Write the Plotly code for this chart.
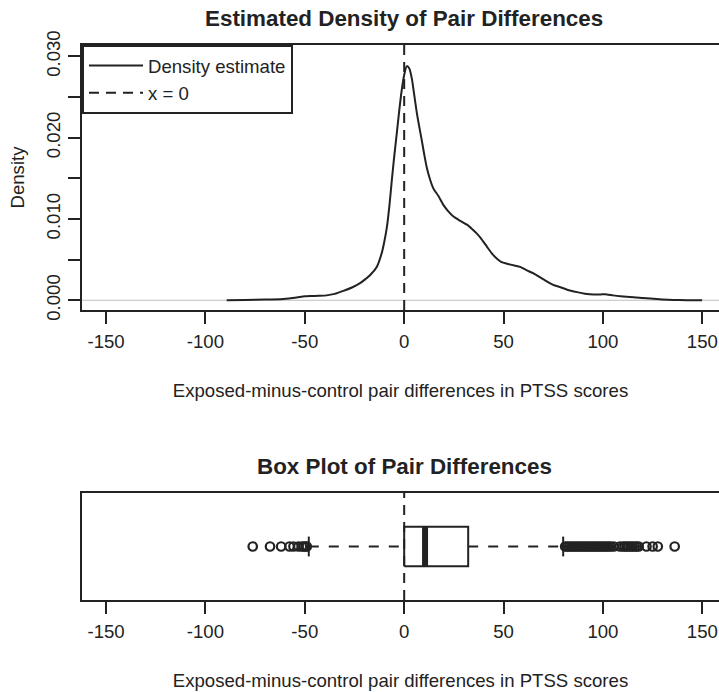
import plotly.graph_objects as go

# ---------------- data ----------------
dens_x = [-89.3, -80, -70, -60.8, -55, -50, -47.4, -43, -39, -35, -30.6, -26, -22.2, -19.5,
          -17.1, -13.8, -11.3, -10, -8.7, -7.4, -6.2, -5, -3.7, -2.4, -1.2, 0, 1.3, 2.6, 3.9,
          5.1, 6.4, 7.7, 8.9, 10.2, 11.4, 13.1, 14.8, 17.3, 19.8, 22, 24.8, 28, 31.6, 34, 36.6,
          39, 41.6, 44, 46.7, 49, 51.7, 55, 58.4, 61.5, 65.1, 68.5, 71.9, 75, 78.6, 82, 87, 91,
          95.3, 99, 102, 105, 108.8, 112, 115.5, 120, 123.9, 130, 135.6, 142, 149.9]
dens_y = [0.0, 0.00003, 0.00008, 0.00016, 0.0003, 0.00048, 0.00052, 0.00055, 0.0006, 0.00078,
          0.00115, 0.0016, 0.0021, 0.0026, 0.0031, 0.0041, 0.0058, 0.0072, 0.0090, 0.0117,
          0.0148, 0.0177, 0.0206, 0.0235, 0.0259, 0.0277, 0.0288, 0.0285, 0.0272, 0.0252,
          0.0230, 0.0212, 0.0196, 0.0178, 0.0163, 0.0148, 0.0137, 0.0128, 0.0117, 0.0110,
          0.0103, 0.0098, 0.0093, 0.0088, 0.0082, 0.0075, 0.0066, 0.0058, 0.0051, 0.0047,
          0.0045, 0.0043, 0.0041, 0.0037, 0.0033, 0.0028, 0.0023, 0.0019, 0.0016, 0.0013,
          0.0010, 0.0008, 0.0007, 0.00072, 0.00072, 0.0006, 0.00048, 0.00042, 0.00038,
          0.00028, 0.0002, 0.0001, 0.00004, 0.00001, 0.0]

box_q1 = 0.0
box_median = 10.5
box_q3 = 32.2
whisker_low = -48.0
whisker_high = 80.0
outliers_low = [-76.2, -67.5, -61.9, -57.7, -55.7, -53.2, -51.5, -50.5, -49.5, -49.0]
outliers_high = [81, 82, 83, 84, 85, 86, 87, 88, 89, 90, 91, 92, 93, 94, 95, 96, 97, 98, 99,
                 100, 101, 102, 103, 104, 105.5, 108.5, 110, 111, 112, 113, 114, 115, 116,
                 117, 118, 121.9, 125, 127.6, 136.1]

x_ticks = [-150, -100, -50, 0, 50, 100, 150]
y_ticks = [0.000, 0.005, 0.010, 0.015, 0.020, 0.025, 0.030]
y_ticktext = ["0.000", "", "0.010", "", "0.020", "", "0.030"]

title_top = "Estimated Density of Pair Differences"
title_box = "Box Plot of Pair Differences"
x_title = "Exposed-minus-control pair differences in PTSS scores"
y_title = "Density"

# ---------------- style ----------------
W, H = 719, 692
INK = "#222222"
FONT = "Liberation Sans, Arial, sans-serif"
FS = 18.6
TFS = 22.4
BOX_POS = 1.0
BOX_HALF = 0.2


def px_x(px):
    return px / W


def px_y(px):
    return 1 - px / H


x_dom = [px_x(82), 1.0]
top_dom = [px_y(310), px_y(45)]
bot_dom = [px_y(600), px_y(493)]
x_range = [-162.1, 158.4]

fig = go.Figure()

fig.add_trace(go.Scatter(
    x=dens_x, y=dens_y, mode="lines", name="Density estimate",
    line=dict(color=INK, width=2, shape="spline", smoothing=0.6),
    xaxis="x", yaxis="y", hoverinfo="skip"))

# box plot drawn from its statistics
bl = dict(color=INK, width=2)
fig.add_trace(go.Scatter(
    x=[box_q1, box_q3, box_q3, box_q1, box_q1],
    y=[BOX_POS - BOX_HALF, BOX_POS - BOX_HALF, BOX_POS + BOX_HALF, BOX_POS + BOX_HALF, BOX_POS - BOX_HALF],
    mode="lines", line=bl, showlegend=False, xaxis="x2", yaxis="y2", hoverinfo="skip"))
fig.add_trace(go.Scatter(
    x=[box_median, box_median], y=[BOX_POS - BOX_HALF, BOX_POS + BOX_HALF],
    mode="lines", line=dict(color=INK, width=6), showlegend=False, xaxis="x2", yaxis="y2",
    hoverinfo="skip"))
for a, b in [(whisker_low, box_q1), (box_q3, whisker_high)]:
    fig.add_trace(go.Scatter(
        x=[a, b], y=[BOX_POS, BOX_POS], mode="lines",
        line=dict(color=INK, width=2, dash="10px,10px"), showlegend=False,
        xaxis="x2", yaxis="y2", hoverinfo="skip"))
for w in [whisker_low, whisker_high]:
    fig.add_trace(go.Scatter(
        x=[w, w], y=[BOX_POS - BOX_HALF / 2, BOX_POS + BOX_HALF / 2], mode="lines",
        line=bl, showlegend=False, xaxis="x2", yaxis="y2", hoverinfo="skip"))
fig.add_trace(go.Scatter(
    x=outliers_low + outliers_high, y=[BOX_POS] * (len(outliers_low) + len(outliers_high)),
    mode="markers", marker=dict(symbol="circle-open", size=8.5, color=INK, line=dict(width=2.2, color=INK)),
    showlegend=False, xaxis="x2", yaxis="y2", hoverinfo="skip"))

shapes = [
    dict(type="line", xref="x domain", x0=0, x1=1, yref="y", y0=0, y1=0,
         line=dict(color="#bebebe", width=1), layer="below"),
    dict(type="line", xref="x", x0=0, x1=0, yref="y domain", y0=0, y1=1,
         line=dict(color=INK, width=2, dash="10px,7px"), showlegend=True, name="x = 0"),
    dict(type="line", xref="x2", x0=0, x1=0, yref="y2 domain", y0=0, y1=1,
         line=dict(color=INK, width=2, dash="10px,7px")),
]

axis_common = dict(
    domain=x_dom, range=x_range, tickvals=x_ticks, ticktext=[str(t) for t in x_ticks],
    ticks="outside", ticklen=12, tickwidth=2, tickcolor=INK,
    showline=True, linewidth=2, linecolor=INK, mirror=True,
    showgrid=False, zeroline=False, automargin=False, ticklabeloverflow="allow",
    tickfont=dict(family=FONT, size=FS, color=INK), ticklabelstandoff=2,
    title=dict(text=x_title, font=dict(family=FONT, size=FS, color=INK), standoff=33),
)

fig.update_layout(
    width=W, height=H,
    margin=dict(l=0, r=0, t=0, b=0),
    paper_bgcolor="white", plot_bgcolor="white",
    font=dict(family=FONT, size=FS, color=INK),
    xaxis=dict(anchor="y", **axis_common),
    xaxis2=dict(anchor="y2", **axis_common),
    yaxis=dict(
        domain=top_dom, range=[-0.0012, 0.0314], anchor="x",
        tickvals=y_ticks, ticktext=y_ticktext, tickangle=-90,
        ticks="outside", ticklen=12, tickwidth=2, tickcolor=INK,
        showline=True, linewidth=2, linecolor=INK,
        showgrid=False, zeroline=False, automargin=False,
        tickfont=dict(family=FONT, size=FS, color=INK), ticklabelstandoff=1,
        title=dict(text=y_title, font=dict(family=FONT, size=FS, color=INK), standoff=13),
    ),
    yaxis2=dict(
        domain=bot_dom, range=[0.46, 1.54], anchor="x2",
        showticklabels=False, ticks="", showline=True, linewidth=2, linecolor=INK,
        showgrid=False, zeroline=False, automargin=False,
    ),
    shapes=shapes,
    showlegend=True,
    legend=dict(
        x=px_x(82), xanchor="left", y=px_y(45), yanchor="top",
        bordercolor=INK, borderwidth=2, bgcolor="white",
        font=dict(family=FONT, size=FS, color=INK), itemwidth=54,
    ),
    annotations=[
        dict(text=f"<b>{title_top}</b>", xref="paper", yref="paper", x=px_x(404), y=px_y(18),
             xanchor="center", yanchor="middle", showarrow=False,
             font=dict(family=FONT, size=TFS, color=INK)),
        dict(text=f"<b>{title_box}</b>", xref="paper", yref="paper", x=px_x(404), y=px_y(466),
             xanchor="center", yanchor="middle", showarrow=False,
             font=dict(family=FONT, size=TFS, color=INK)),
    ],
)

fig.write_html(
    "out.html",
    config={"displayModeBar": False},
    post_script="document.body.style.margin='0px';document.body.style.overflow='hidden';",
)
